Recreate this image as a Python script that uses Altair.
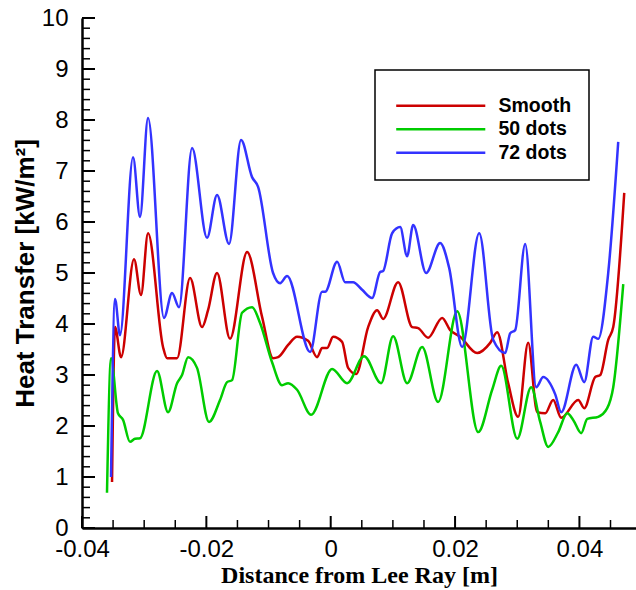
import altair as alt
import pandas as pd

# ---- data ----
smooth_x = [-0.03517, -0.03469, -0.03372, -0.03163, -0.03051, -0.02938, -0.02697, -0.02632, -0.02471,
            -0.02262, -0.02069, -0.01973, -0.01828, -0.01619, -0.01345, -0.01104, -0.00927, -0.00846,
            -0.00685, -0.00541, -0.00364, -0.00219, -0.00138, -0.00058, 0.00039, 0.00183, 0.0028,
            0.00409, 0.00602, 0.00747, 0.00843, 0.01084, 0.0131, 0.01406, 0.01567, 0.01792, 0.01921,
            0.02082, 0.02355, 0.02565, 0.02677, 0.02854, 0.03015, 0.03176, 0.03321, 0.0345, 0.03578,
            0.03707, 0.03981, 0.04077, 0.04254, 0.04335, 0.04463, 0.04544, 0.04721]
smooth_y = [0.90, 3.94, 3.35, 5.27, 4.57, 5.78, 3.55, 3.33, 3.33,
            4.90, 3.94, 4.27, 5.00, 3.71, 5.41, 4.14, 3.33, 3.35,
            3.59, 3.75, 3.67, 3.35, 3.53, 3.53, 3.75, 3.65, 3.14,
            3.02, 3.94, 4.27, 4.10, 4.82, 3.94, 3.92, 3.73, 4.12, 3.88,
            3.75, 3.43, 3.63, 3.84, 2.84, 2.18, 3.63, 2.27, 2.25, 2.51,
            2.16, 2.51, 2.35, 2.96, 3.00, 3.69, 3.94, 6.57]

dots50_x = [-0.03598, -0.03533, -0.03421, -0.0334, -0.03228, -0.03147, -0.03067, -0.02793, -0.02616,
            -0.02471, -0.02391, -0.02294, -0.0215, -0.01957, -0.0178, -0.01667, -0.01586, -0.01426,
            -0.01265, -0.01136, -0.00943, -0.00782, -0.00685, -0.00541, -0.00315, 0.00023, 0.00264,
            0.00537, 0.00811, 0.01004, 0.01229, 0.01471, 0.01728, 0.02034, 0.02372, 0.02597, 0.02742,
            0.03, 0.03224, 0.03369, 0.03498, 0.03659, 0.03804, 0.039, 0.04029, 0.04126, 0.04302,
            0.04447, 0.04544, 0.04705]
dots50_y = [0.69, 3.33, 2.25, 2.12, 1.69, 1.75, 1.76, 3.08, 2.27,
            2.84, 3.00, 3.35, 3.14, 2.08, 2.51, 2.86, 2.90, 4.22,
            4.33, 4.02, 3.25, 2.80, 2.84, 2.71, 2.22, 3.12, 2.84,
            3.37, 2.84, 3.76, 2.84, 3.55, 2.47, 4.25, 1.88, 2.71, 3.18,
            1.75, 2.76, 2.08, 1.59, 1.88, 2.25, 2.12, 1.86, 2.14, 2.18,
            2.35, 2.76, 4.78]

dots72_x = [-0.03533, -0.03469, -0.03389, -0.03179, -0.03067, -0.02938, -0.02681, -0.02552, -0.02439,
            -0.0223, -0.01989, -0.01828, -0.01635, -0.01442, -0.01265, -0.01168, -0.00927, -0.00814,
            -0.00702, -0.00331, -0.00138, -0.0009, 0.00103, 0.00232, 0.0036, 0.00505, 0.00666,
            0.00795, 0.00843, 0.00988, 0.01117, 0.01229, 0.01326, 0.01535, 0.0176, 0.01905, 0.02114,
            0.02388, 0.02613, 0.02806, 0.02887, 0.02967, 0.03128, 0.03305, 0.03418, 0.03611, 0.03707,
            0.03949, 0.04077, 0.04222, 0.04302, 0.04463, 0.04624]
dots72_y = [1.00, 4.49, 3.78, 7.27, 6.10, 8.04, 4.12, 4.61, 4.33,
            7.45, 5.69, 6.53, 5.57, 7.61, 6.88, 6.69, 5.00, 4.80,
            4.94, 3.45, 4.63, 4.63, 5.22, 4.82, 4.82, 4.67, 4.51,
            5.02, 5.04, 5.78, 5.90, 5.33, 5.94, 5.00, 5.59, 5.10, 3.55,
            5.78, 3.69, 3.43, 3.82, 3.88, 5.57, 2.76, 2.96, 2.62, 2.27,
            3.20, 2.86, 3.75, 3.71, 5.00, 7.57]

series_names = ["Smooth", "50 dots", "72 dots"]
series_colors = ["#CC0000", "#00CC00", "#3333FF"]

x_major_ticks = [-0.04, -0.02, 0.0, 0.02, 0.04]
x_minor_ticks = [-0.035, -0.03, -0.025, -0.015, -0.01, -0.005, 0.005, 0.01, 0.015,
                 0.025, 0.03, 0.035, 0.045]
y_major_ticks = [0, 1, 2, 3, 4, 5, 6, 7, 8, 9, 10]
y_minor_ticks = [v / 10 for v in range(0, 101, 2) if v % 10 != 0]

# ---- one shared table: curves plus tick positions ----
rows = []
for name, xs, ys in [("Smooth", smooth_x, smooth_y),
                     ("50 dots", dots50_x, dots50_y),
                     ("72 dots", dots72_x, dots72_y)]:
    for i, (xv, yv) in enumerate(zip(xs, ys)):
        rows.append({"kind": "line", "series": name, "x": xv, "y": yv, "order": i})
for v in y_major_ticks:
    rows.append({"kind": "ymaj", "series": "", "x": None, "y": v, "order": 0})
for v in y_minor_ticks:
    rows.append({"kind": "ymin", "series": "", "x": None, "y": v, "order": 0})
for v in x_major_ticks:
    rows.append({"kind": "xmaj", "series": "", "x": v, "y": None, "order": 0})
for v in x_minor_ticks:
    rows.append({"kind": "xmin", "series": "", "x": v, "y": None, "order": 0})
df = pd.DataFrame(rows)

W, H = 554, 510
xscale = alt.Scale(domain=[-0.04, 0.0491], nice=False, zero=False)
yscale = alt.Scale(domain=[0, 10], nice=False, zero=False)

x_axis = alt.Axis(title="Distance from Lee Ray [m]", values=x_major_ticks, orient="bottom",
                  labelExpr="datum.value == 0 ? '0' : (datum.value < 0 ? '-' + format(-datum.value, '.2f') : format(datum.value, '.2f'))",
                  titleFont="Liberation Serif", titleFontSize=24, titleFontWeight="bold",
                  labelPadding=9, titlePadding=2, labelFlush=False, ticks=False)
y_axis = alt.Axis(title="Heat Transfer [kW/m²]", values=y_major_ticks, format="d", orient="left",
                  titleFont="Liberation Sans", titleFontSize=26, titleFontWeight="bold",
                  labelPadding=14, titleX=-44, titleY=H / 2, titleAngle=270,
                  titleBaseline="bottom", titleAlign="center", labelFlush=False, ticks=False)

base = alt.Chart(df)

lines = base.transform_filter(alt.datum.kind == "line").mark_line(
    strokeWidth=2.5, interpolate="monotone").encode(
    x=alt.X("x:Q", scale=xscale, axis=x_axis),
    y=alt.Y("y:Q", scale=yscale, axis=y_axis),
    color=alt.Color("series:N",
                    scale=alt.Scale(domain=series_names, range=series_colors),
                    legend=alt.Legend(title=" ", orient="none", legendX=293, legendY=52,
                                      symbolType="M-8,0H8", symbolSize=124, symbolStrokeWidth=2.5,
                                      symbolOffset=39,
                                      labelFont="Liberation Sans", labelFontSize=19.5,
                                      labelFontWeight="bold", labelColor="black",
                                      labelOffset=48, rowPadding=2.5,
                                      titleFontSize=8, titlePadding=1,
                                      padding=17, strokeColor="black")),
    order="order:Q",
)

# inward (Tecplot style) tick marks drawn from the tick lists
ymaj = base.transform_filter(alt.datum.kind == "ymaj").mark_rule(strokeWidth=2).encode(
    y=alt.Y("y:Q", scale=yscale, axis=y_axis), x=alt.value(0), x2=alt.value(13),
    stroke=alt.value("black"))
ymin = base.transform_filter(alt.datum.kind == "ymin").mark_rule(strokeWidth=1.5).encode(
    y=alt.Y("y:Q", scale=yscale, axis=y_axis), x=alt.value(0), x2=alt.value(8),
    stroke=alt.value("black"))
xmaj = base.transform_filter(alt.datum.kind == "xmaj").mark_rule(strokeWidth=2).encode(
    x=alt.X("x:Q", scale=xscale, axis=x_axis), y=alt.value(H), y2=alt.value(H - 12),
    stroke=alt.value("black"))
xmin = base.transform_filter(alt.datum.kind == "xmin").mark_rule(strokeWidth=1.5).encode(
    x=alt.X("x:Q", scale=xscale, axis=x_axis), y=alt.value(H), y2=alt.value(H - 8),
    stroke=alt.value("black"))

chart = alt.layer(lines, ymaj, ymin, xmaj, xmin).properties(
    width=W, height=H,
    autosize=alt.AutoSizeParams(type="none"),
    padding={"left": 82, "top": 18, "right": 0, "bottom": 62},
    background="white",
).configure_view(stroke=None).configure_axis(
    domainColor="black", domainWidth=2.5, grid=False,
    labelFont="Liberation Sans", labelFontSize=24, labelColor="black", titleColor="black",
).configure_legend(strokeWidth=1.5)

chart.save("out.html", embed_options={"renderer": "svg", "actions": False})
